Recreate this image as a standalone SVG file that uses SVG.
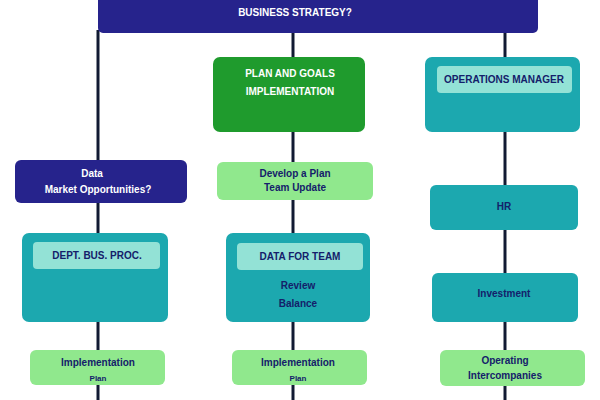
<svg xmlns="http://www.w3.org/2000/svg" width="600" height="400" viewBox="0 0 600 400">
<style>
.navy{fill:#26238c}
.green{fill:#1f9b2d}
.teal{fill:#1ca8af}
.lg{fill:#90e88d}
.band{fill:#93e2d6}
.w{font-family:"Liberation Sans",Arial,sans-serif;font-size:10px;font-weight:bold;fill:#ffffff;text-anchor:middle}
.d{font-family:"Liberation Sans",Arial,sans-serif;font-size:10px;font-weight:bold;fill:#14206a;text-anchor:middle}
.c{stroke:#111a33;stroke-width:3;fill:none}
</style>
<rect width="600" height="400" fill="#ffffff"/>
<g id="connectors">
<line class="c" x1="98" y1="30" x2="98" y2="160"/>
<line class="c" x1="293" y1="30" x2="293" y2="57"/>
<line class="c" x1="505" y1="30" x2="505" y2="57"/>
<line class="c" x1="293" y1="132" x2="293" y2="162"/>
<line class="c" x1="505" y1="132" x2="505" y2="185"/>
<line class="c" x1="98" y1="203" x2="98" y2="233"/>
<line class="c" x1="293" y1="200" x2="293" y2="233"/>
<line class="c" x1="505" y1="230" x2="505" y2="273"/>
<line class="c" x1="98" y1="322" x2="98" y2="400"/>
<line class="c" x1="293" y1="322" x2="293" y2="400"/>
<line class="c" x1="505" y1="322" x2="505" y2="400"/>
</g>
<g id="header">
<rect class="navy" x="98" y="-10" width="440" height="43" rx="5"/>
<text class="w" x="295" y="16">BUSINESS STRATEGY?</text>
</g>
<g id="n-green">
<rect class="green" x="213" y="57" width="152" height="75" rx="7"/>
<text class="w" x="290" y="77">PLAN AND GOALS</text>
<text class="w" x="290" y="95">IMPLEMENTATION</text>
</g>
<g id="n-topright">
<rect class="teal" x="425" y="57" width="155" height="75" rx="7"/>
<rect class="band" x="437" y="66" width="135" height="27" rx="4"/>
<text class="d" x="504" y="83">OPERATIONS MANAGER</text>
</g>
<g id="n-left-navy">
<rect class="navy" x="15" y="160" width="172" height="43" rx="6"/>
<text class="w" x="92" y="177">Data</text>
<text class="w" x="98" y="193">Market Opportunities?</text>
</g>
<g id="n-mid-lg">
<rect class="lg" x="217" y="162" width="156" height="38" rx="6"/>
<text class="d" x="295" y="177">Develop a Plan</text>
<text class="d" x="295" y="191">Team Update</text>
</g>
<g id="n-right-teal1">
<rect class="teal" x="430" y="185" width="148" height="45" rx="6"/>
<text class="d" x="504" y="210">HR</text>
</g>
<g id="n-left-teal">
<rect class="teal" x="22" y="233" width="146" height="89" rx="7"/>
<rect class="band" x="33" y="242" width="127" height="27" rx="4"/>
<text class="d" x="97" y="259">DEPT. BUS. PROC.</text>
</g>
<g id="n-mid-teal">
<rect class="teal" x="226" y="233" width="144" height="89" rx="7"/>
<rect class="band" x="237" y="243" width="126" height="27" rx="4"/>
<text class="d" x="300" y="260">DATA FOR TEAM</text>
<text class="d" x="298" y="289">Review</text>
<text class="d" x="298" y="307">Balance</text>
</g>
<g id="n-right-teal2">
<rect class="teal" x="432" y="273" width="146" height="49" rx="6"/>
<text class="d" x="504" y="297">Investment</text>
</g>
<g id="n-left-lg">
<rect class="lg" x="30" y="350" width="135" height="35" rx="6"/>
<text class="d" x="98" y="366">Implementation</text>
<text class="d" x="98" y="381" style="font-size:8px">Plan</text>
</g>
<g id="n-mid-lg2">
<rect class="lg" x="232" y="350" width="135" height="35" rx="6"/>
<text class="d" x="298" y="366">Implementation</text>
<text class="d" x="298" y="381" style="font-size:8px">Plan</text>
</g>
<g id="n-right-lg">
<rect class="lg" x="440" y="350" width="145" height="36" rx="6"/>
<text class="d" x="505" y="364">Operating</text>
<text class="d" x="505" y="379">Intercompanies</text>
</g>
</svg>
